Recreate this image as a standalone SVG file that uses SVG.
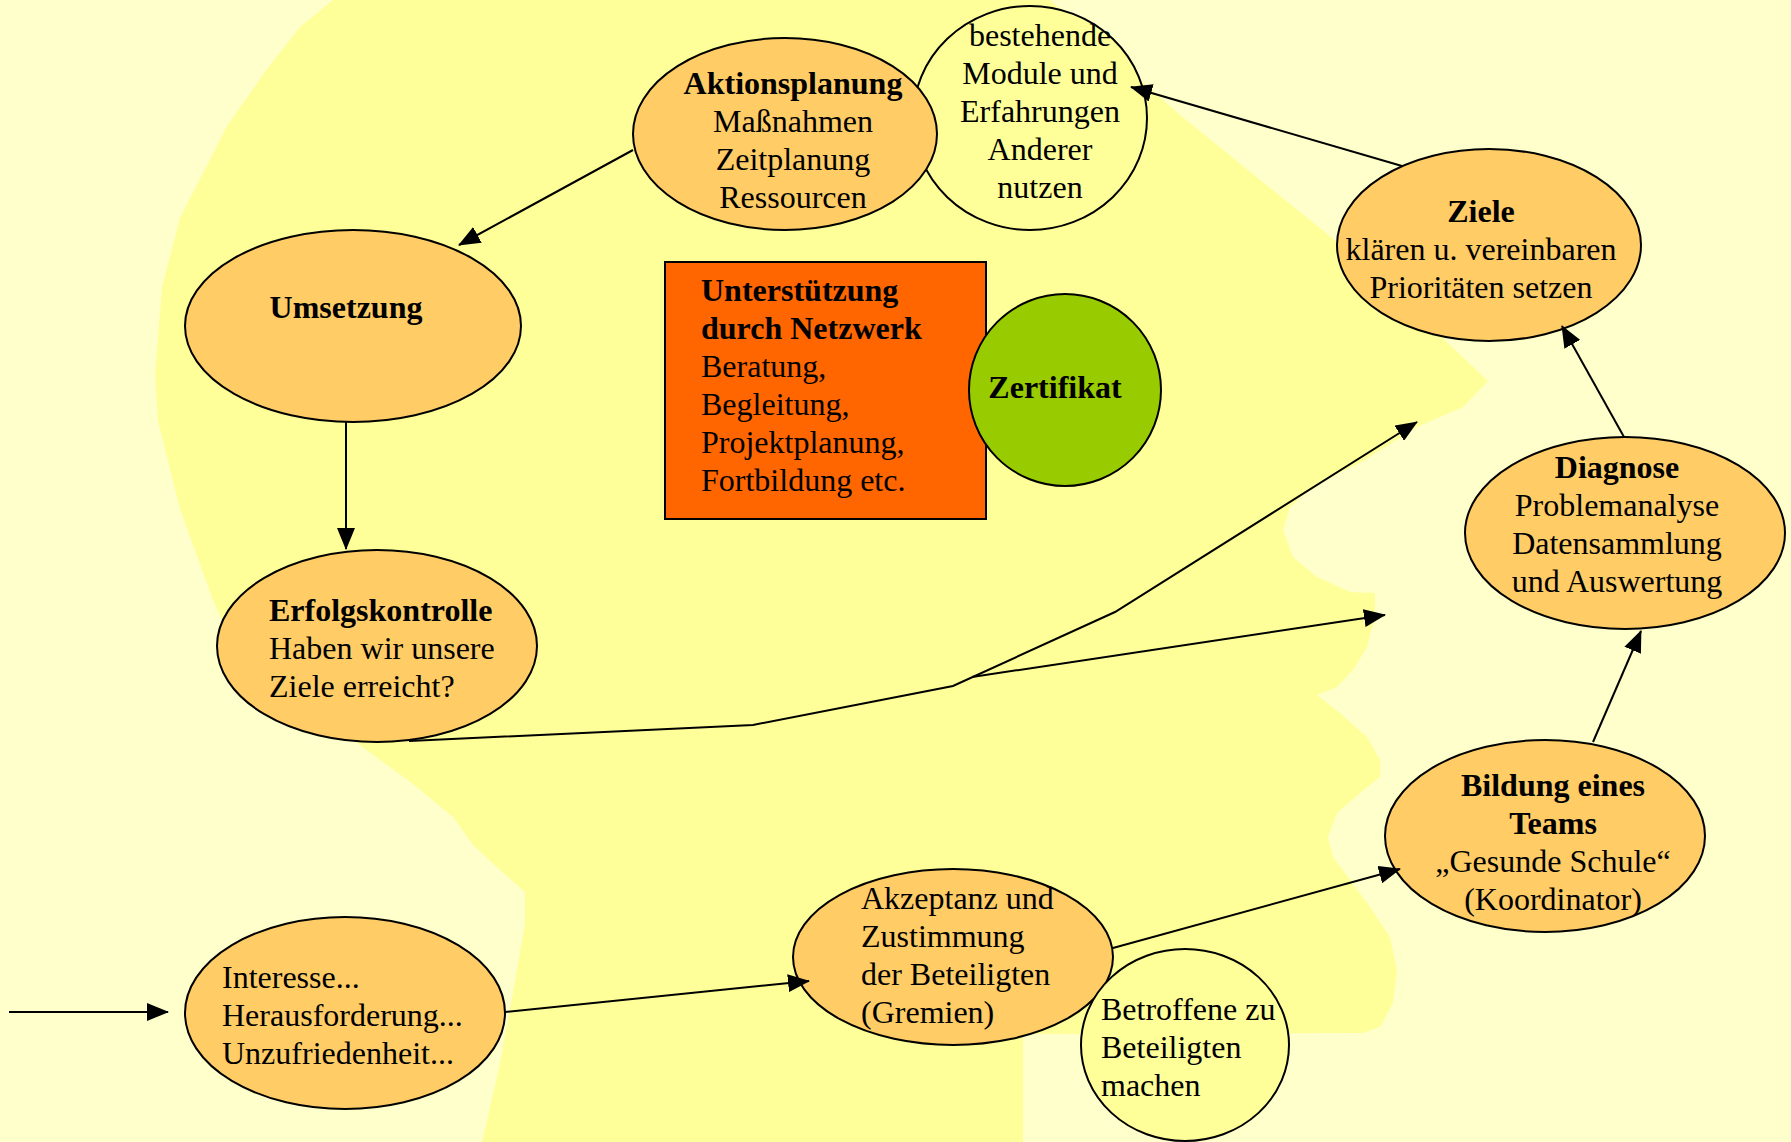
<svg xmlns="http://www.w3.org/2000/svg" width="1791" height="1142" viewBox="0 0 1791 1142">
<defs>
<style>
.node{fill:#FFCC66;stroke:#000;stroke-width:2}
.pale{fill:#FFFF99;stroke:#000;stroke-width:2}
.t{font-family:"Liberation Serif","Times New Roman",serif;font-size:32px;fill:#000}
.b{font-weight:bold}
.c{text-anchor:middle}
.edge{fill:none;stroke:#000;stroke-width:2}
</style>
<marker id="ah" viewBox="0 0 22 18" markerWidth="22" markerHeight="18" refX="21" refY="9" orient="auto" markerUnits="userSpaceOnUse">
<path d="M0,0 L22,9 L0,18 z" fill="#000"/>
</marker>
</defs>
<rect x="0" y="0" width="1791" height="1142" fill="#FFFFCC"/>
<path id="head" fill="#FFFF99" d="M333,0 L1050,0 L1180,115 L1363,263 L1488,381 L1463,407 L1417,427 L1360,463 L1317,483 L1290,507 L1283,530 L1293,557 L1317,577 L1350,592 L1375,593 L1375,617 L1367,647 L1353,670 L1337,687 L1317,695 L1340,713 L1367,737 L1380,760 L1380,777 L1360,793 L1337,813 L1328,837 L1333,857 L1350,880 L1370,907 L1390,937 L1397,970 L1393,1003 L1380,1027 L1363,1033 L1023,1034 L1023,1142 L482,1142 L500,1064 L513,992 L525,924 L525,892 L500,870 L473,845 L453,817 L413,784 L357,743 L310,725 L260,690 L230,640 L213,600 L180,509 L158,421 L155,375 L162,287 L180,218 L227,126 L267,69 L300,27 Z"/>

<g id="bestehende">
<ellipse class="pale" cx="1030" cy="118" rx="117" ry="112"/>
<text class="t c" x="1040" y="46">bestehende</text>
<text class="t c" x="1040" y="84">Module und</text>
<text class="t c" x="1040" y="122">Erfahrungen</text>
<text class="t c" x="1040" y="160">Anderer</text>
<text class="t c" x="1040" y="198">nutzen</text>
</g>
<g id="aktionsplanung">
<ellipse class="node" cx="785" cy="134" rx="152" ry="96"/>
<text class="t c b" x="793" y="94">Aktionsplanung</text>
<text class="t c" x="793" y="132">Maßnahmen</text>
<text class="t c" x="793" y="170">Zeitplanung</text>
<text class="t c" x="793" y="208">Ressourcen</text>
</g>
<g id="umsetzung">
<ellipse class="node" cx="353" cy="326" rx="168" ry="96"/>
<text class="t c b" x="346" y="318">Umsetzung</text>
</g>
<g id="netzwerk">
<rect x="665" y="262" width="321" height="257" fill="#FF6600" stroke="#000" stroke-width="2"/>
<text class="t b" x="701" y="301">Unterstützung</text>
<text class="t b" x="701" y="339">durch Netzwerk</text>
<text class="t" x="701" y="377">Beratung,</text>
<text class="t" x="701" y="415">Begleitung,</text>
<text class="t" x="701" y="453">Projektplanung,</text>
<text class="t" x="701" y="491">Fortbildung etc.</text>
</g>
<g id="zertifikat">
<ellipse cx="1065" cy="390" rx="96" ry="96" fill="#99CC00" stroke="#000" stroke-width="2"/>
<text class="t c b" x="1055" y="398">Zertifikat</text>
</g>
<g id="ziele">
<ellipse class="node" cx="1489" cy="245" rx="152" ry="96"/>
<text class="t c b" x="1481" y="222">Ziele</text>
<text class="t c" x="1481" y="260">klären u. vereinbaren</text>
<text class="t c" x="1481" y="298">Prioritäten setzen</text>
</g>
<g id="diagnose">
<ellipse class="node" cx="1625" cy="533" rx="160" ry="96"/>
<text class="t c b" x="1617" y="478">Diagnose</text>
<text class="t c" x="1617" y="516">Problemanalyse</text>
<text class="t c" x="1617" y="554">Datensammlung</text>
<text class="t c" x="1617" y="592">und Auswertung</text>
</g>
<g id="erfolgskontrolle">
<ellipse class="node" cx="377" cy="646" rx="160" ry="96"/>
<text class="t b" x="269" y="621">Erfolgskontrolle</text>
<text class="t" x="269" y="659">Haben wir unsere</text>
<text class="t" x="269" y="697">Ziele erreicht?</text>
</g>
<g id="bildung">
<ellipse class="node" cx="1545" cy="836" rx="160" ry="96"/>
<text class="t c b" x="1553" y="796">Bildung eines</text>
<text class="t c b" x="1553" y="834">Teams</text>
<text class="t c" x="1553" y="872">„Gesunde Schule“</text>
<text class="t c" x="1553" y="910">(Koordinator)</text>
</g>
<g id="interesse">
<ellipse class="node" cx="345" cy="1013" rx="160" ry="96"/>
<text class="t" x="222" y="988">Interesse...</text>
<text class="t" x="222" y="1026">Herausforderung...</text>
<text class="t" x="222" y="1064">Unzufriedenheit...</text>
</g>
<g id="akzeptanz">
<ellipse class="node" cx="953" cy="957" rx="160" ry="88"/>
<text class="t" x="861" y="909">Akzeptanz und</text>
<text class="t" x="861" y="947">Zustimmung</text>
<text class="t" x="861" y="985">der Beteiligten</text>
<text class="t" x="861" y="1023">(Gremien)</text>
</g>
<g id="betroffene">
<ellipse class="pale" cx="1185" cy="1045" rx="104" ry="96"/>
<text class="t" x="1101" y="1020">Betroffene zu</text>
<text class="t" x="1101" y="1058">Beteiligten</text>
<text class="t" x="1101" y="1096">machen</text>
</g>

<g id="connectors">
<line class="edge" x1="9" y1="1012" x2="168" y2="1012" marker-end="url(#ah)"/>
<line class="edge" x1="505" y1="1012" x2="809" y2="981" marker-end="url(#ah)"/>
<line class="edge" x1="1113" y1="948" x2="1400" y2="869" marker-end="url(#ah)"/>
<line class="edge" x1="1593" y1="742" x2="1641" y2="631" marker-end="url(#ah)"/>
<line class="edge" x1="1624" y1="437" x2="1562" y2="326" marker-end="url(#ah)"/>
<line class="edge" x1="1402" y1="166" x2="1131" y2="87" marker-end="url(#ah)"/>
<line class="edge" x1="633" y1="150" x2="459" y2="245" marker-end="url(#ah)"/>
<line class="edge" x1="346" y1="422" x2="346" y2="549" marker-end="url(#ah)"/>
<polyline class="edge" points="409,741 753,725 953,686 1115,612 1417,422" marker-end="url(#ah)"/>
<line class="edge" x1="972" y1="677" x2="1385" y2="615" marker-end="url(#ah)"/>
</g>
</svg>
